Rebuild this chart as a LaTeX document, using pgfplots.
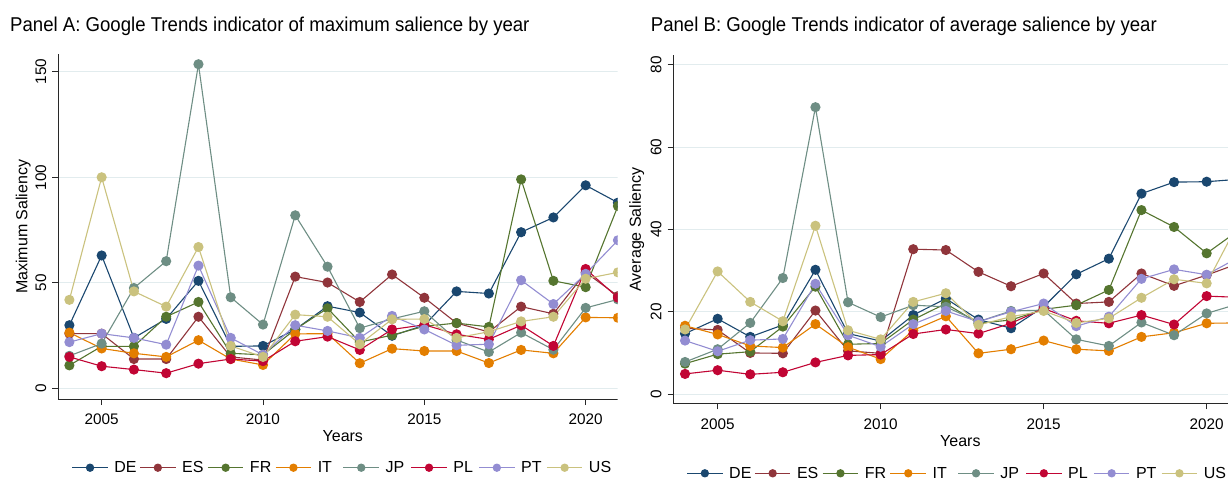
\documentclass[border=0pt]{standalone}
\usepackage{pgfplots}
\usepackage{pgfplotstable}
\pgfplotsset{compat=1.18}
\usepackage{fontspec}
\setmainfont{Liberation Sans}
\usepackage{graphicx}

\definecolor{cDE}{RGB}{26,71,111}
\definecolor{cES}{RGB}{144,53,59}
\definecolor{cFR}{RGB}{85,117,47}
\definecolor{cIT}{RGB}{227,126,0}
\definecolor{cJP}{RGB}{110,142,132}
\definecolor{cPL}{RGB}{193,5,52}
\definecolor{cPT}{RGB}{147,141,210}
\definecolor{cUS}{RGB}{202,194,126}
\definecolor{gridc}{RGB}{226,236,238}
\definecolor{axc}{RGB}{40,40,40}

\pgfplotstableread{
year DE ES FR IT JP PL PT US
2004 30 26 11 26.5 15.5 15 22 42
2005 63 26 20 19 21.3 10.6 26 100
2006 24 14 20 16.7 47.6 9 24 46
2007 33 14 34 15 60.3 7.3 20.8 38.8
2008 51 34 41 22.9 153.5 11.8 58.2 67
2009 20 15 16.7 14 43.2 14 24 20.2
2010 20.2 13.5 16 11.2 30.3 13 16 15
2011 28 53 28 25.9 82 22.4 30 35
2012 39 50.2 38 26 57.7 24.6 27.3 34
2013 36 41 22 12 28.6 18.3 24 21
2014 25 54 25.3 18.9 33 28 34.4 32.8
2015 30 43 29.5 17.8 36.6 30.2 28 32.9
2016 46 31 31 17.8 23 25.7 20.5 24
2017 45 26.8 29.2 12.1 17.3 23.3 21 26.9
2018 74 38.8 99 18.3 26.5 30 51.3 31.8
2019 81 35.4 51 16.7 18.4 20.2 40 34
2020 96.2 55 48 33.7 38.2 56.6 54.3 52
2021 88 43.8 86.4 33.5 42.2 43 70.2 55
}\maxtab

\pgfplotstableread{
year DE ES FR IT JP PL PT US
2004 14.7 16 7.4 16.6 7.8 4.9 13 15.7
2005 18.3 15.6 9.7 14.5 10.9 5.8 10.4 29.8
2006 13.9 10 10.3 11.7 17.3 4.8 13.1 22.4
2007 16.8 9.9 16.4 11.3 28.2 5.3 13.4 17.7
2008 30.2 20.3 26.1 17 69.7 7.7 26.8 40.9
2009 14.7 10.5 12.1 11.4 22.3 9.4 14.3 15.5
2010 12.9 9.9 12.3 8.5 18.7 9.6 11.5 13.3
2011 19.2 35.2 18.1 15.5 21.6 14.6 17 22.4
2012 23.2 35 22 18.9 21.2 15.7 20.2 24.5
2013 18.1 29.7 17.2 9.9 17.6 14.7 17.6 16.8
2014 16 26.2 18 10.9 20.2 17.2 20 18.8
2015 21.2 29.3 20.6 13 20.4 20.8 22 20.2
2016 29.1 22 21.6 10.9 13.3 17.8 16.5 17.3
2017 32.9 22.4 25.3 10.5 11.7 17.2 18.8 18.4
2018 48.7 29.3 44.7 13.9 17.4 19.2 28 23.4
2019 51.5 26.3 40.6 14.9 14.3 16.9 30.3 27.9
2020 51.6 28.9 34.2 17.2 19.6 23.8 29 26.9
2021 52.2 31.8 39.9 17.3 22 23.5 33.3 42
}\avgtab

\newcommand{\xs}{\rule{0pt}{19.6bp}}
\newcommand{\ys}{\rule[-6bp]{0pt}{6bp}}

\pgfplotsset{
  panel/.style={
    scale only axis,
    axis x line*=bottom, axis y line*=left,
    axis line style={draw=axc, line width=0.9bp},
    tick style={draw=axc, line width=0.9bp},
    major tick length=5.7bp, tick align=outside,
    xtick={2005,2010,2015,2020},
    xticklabels={\xs 2005,\xs 2010,\xs 2015,\xs 2020},
    ymajorgrids, major grid style={draw=gridc, line width=0.9bp},
    ticklabel style={font=\fontsize{15.3bp}{18bp}\selectfont, inner sep=0pt},
    xticklabel style={anchor=north},
    yticklabel style={rotate=90, anchor=south},
    label style={font=\fontsize{16bp}{19bp}\selectfont, inner sep=0pt},
    xlabel={Years},
    legend columns=8,
    legend cell align=left,
    legend style={draw=none, fill=none, inner sep=0pt, outer sep=0pt,
      nodes={inner sep=0pt}, anchor=west,
      font=\fontsize{16bp}{19bp}\selectfont,
      /tikz/every even column/.style={column sep=0pt},
      /tikz/every odd column/.style={column sep=0pt}},
    legend image code/.code={\draw[mark repeat=2,mark phase=2,mark size=3.6bp]
      plot coordinates {(0bp,0bp) (17.8bp,0bp) (35.6bp,0bp)};},
    every axis plot/.append style={line width=1.1bp, mark=*, mark size=4.5bp},
  },
}

\newcommand{\lent}[1]{\hspace*{6bp}\makebox[25.1bp][l]{#1}}

\begin{document}
\begin{tikzpicture}
\useasboundingbox (0,0) rectangle (1228bp,479bp);
\clip (0,0) rectangle (1228bp,479bp);

% Panel A
\begin{scope}
\clip (0,0) rectangle (617.5bp,479bp);
\begin{axis}[panel,
  at={(58bp,79.7bp)}, anchor=south west,
  width=569.6bp, height=345bp,
  xmin=2003.647, xmax=2021.3, ymin=-5.06, ymax=158.2,
  ytick={0,50,100,150}, yticklabels={\ys 0,\ys 50,\ys 100,\ys 150},
  ylabel={Maximum Saliency},
  ylabel style={at={(axis description cs:-0.0609,0.5)}, anchor=center},
  xlabel style={at={(axis description cs:0.5,0)}, anchor=north, yshift=-30.7bp},
  legend style={at={(axis description cs:0.02405,-0.1983)}},
]
\addplot[color=cDE] table[x=year,y=DE]{\maxtab}; \addlegendentry{\lent{DE}}
\addplot[color=cES] table[x=year,y=ES]{\maxtab}; \addlegendentry{\lent{ES}}
\addplot[color=cFR] table[x=year,y=FR]{\maxtab}; \addlegendentry{\lent{FR}}
\addplot[color=cIT] table[x=year,y=IT]{\maxtab}; \addlegendentry{\lent{IT}}
\addplot[color=cJP] table[x=year,y=JP]{\maxtab}; \addlegendentry{\lent{JP}}
\addplot[color=cPL] table[x=year,y=PL]{\maxtab}; \addlegendentry{\lent{PL}}
\addplot[color=cPT] table[x=year,y=PT]{\maxtab}; \addlegendentry{\lent{PT}}
\addplot[color=cUS] table[x=year,y=US]{\maxtab}; \addlegendentry{\lent{US}}
\end{axis}
\end{scope}

% Panel B
\begin{axis}[panel,
  at={(673.3bp,75.4bp)}, anchor=south west,
  width=574.1bp, height=348.5bp,
  xmin=2003.64, xmax=2021.25, ymin=-2.31, ymax=82.36,
  ytick={0,20,40,60,80}, yticklabels={\ys 0,\ys 20,\ys 40,\ys 60,\ys 80},
  ylabel={Average Saliency},
  ylabel style={at={(axis description cs:-0.0638,0.5)}, anchor=center},
  xlabel style={at={(axis description cs:0.5,0)}, anchor=north, yshift=-31.5bp},
  legend style={at={(axis description cs:0.023,-0.2)}},
]
\addplot[color=cDE] table[x=year,y=DE]{\avgtab}; \addlegendentry{\lent{DE}}
\addplot[color=cES] table[x=year,y=ES]{\avgtab}; \addlegendentry{\lent{ES}}
\addplot[color=cFR] table[x=year,y=FR]{\avgtab}; \addlegendentry{\lent{FR}}
\addplot[color=cIT] table[x=year,y=IT]{\avgtab}; \addlegendentry{\lent{IT}}
\addplot[color=cJP] table[x=year,y=JP]{\avgtab}; \addlegendentry{\lent{JP}}
\addplot[color=cPL] table[x=year,y=PL]{\avgtab}; \addlegendentry{\lent{PL}}
\addplot[color=cPT] table[x=year,y=PT]{\avgtab}; \addlegendentry{\lent{PT}}
\addplot[color=cUS] table[x=year,y=US]{\avgtab}; \addlegendentry{\lent{US}}
\end{axis}

\node[anchor=base west, inner sep=0pt, font=\fontsize{20bp}{24bp}\selectfont] at (10bp,447.3bp)
  {\scalebox{0.93}[1]{Panel A: Google Trends indicator of maximum salience by year}};
\node[anchor=base west, inner sep=0pt, font=\fontsize{20bp}{24bp}\selectfont] at (650.7bp,447.3bp)
  {\scalebox{0.93}[1]{Panel B: Google Trends indicator of average salience by year}};
\end{tikzpicture}
\end{document}
